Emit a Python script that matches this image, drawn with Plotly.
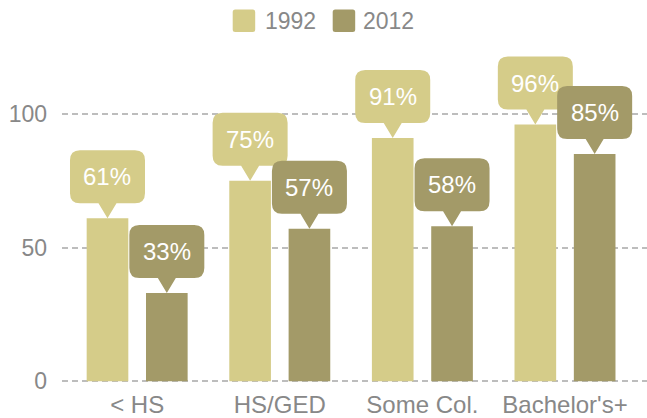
import plotly.graph_objects as go

# ---- data ----
categories = ["< HS", "HS/GED", "Some Col.", "Bachelor's+"]
series_names = ["1992", "2012"]
values_1992 = [61, 75, 91, 96]
values_2012 = [33, 57, 58, 85]
y_ticks = [0, 50, 100]

colors = ["#d5cc89", "#a39a68"]
series_values = [values_1992, values_2012]

BARGAP = 0.168
BARGROUPGAP = 0.298

fig = go.Figure()
for name, vals, col in zip(series_names, series_values, colors):
    fig.add_trace(go.Bar(
        x=categories, y=vals, name=name,
        marker=dict(color=col, line=dict(width=0)),
        showlegend=False, hoverinfo="x+y",
    ))

# callout boxes (pixel-sized shapes anchored at each bar top)
n_series = len(series_names)
slot = (1 - BARGAP) / n_series
W, B, T, R, TW = 37.5, 15, 68, 10, 9


def callout_path():
    return (f"M{-W},{B+R} L{-W},{T-R} Q{-W},{T} {-W+R},{T} L{W-R},{T} "
            f"Q{W},{T} {W},{T-R} L{W},{B+R} Q{W},{B} {W-R},{B} L{TW},{B} "
            f"L0,0 L{-TW},{B} L{-W+R},{B} Q{-W},{B} {-W},{B+R} Z")


shapes = []
annotations = []
for i, cat in enumerate(categories):
    for s in range(n_series):
        v = series_values[s][i]
        xc = i - (1 - BARGAP) / 2 + slot * (s + 0.5)
        shapes.append(dict(
            type="path", xref="x", yref="y",
            xsizemode="pixel", ysizemode="pixel",
            xanchor=xc, yanchor=v, path=callout_path(),
            fillcolor=colors[s], line=dict(width=0), layer="above",
        ))
        annotations.append(dict(
            x=xc, y=v, xref="x", yref="y", text=f"{v}%",
            showarrow=False, yshift=(B + T) / 2, xanchor="center", yanchor="middle",
            font=dict(color="white", size=24, family="Liberation Sans, Arial, sans-serif"),
        ))

# manual legend centred at top of figure
leg_items = [(232.7, 265.0), (332.7, 363.3)]
for (sx, tx), name, col in zip(leg_items, series_names, colors):
    x0 = (sx - 62) / 585
    shapes.append(dict(
        type="path", xref="paper", yref="paper",
        xsizemode="pixel", ysizemode="pixel", xanchor=x0, yanchor=1,
        path="M0,10 L0,28 Q0,30.5 2.5,30.5 L20,30.5 Q22.5,30.5 22.5,28 L22.5,10.5 Q22.5,8 20,8 L2.5,8 Q0,8 0,10.5 Z",
        fillcolor=col, line=dict(width=0),
    ))
    annotations.append(dict(
        x=(tx - 62) / 585, y=1, xref="paper", yref="paper", text=name,
        showarrow=False, xanchor="left", yanchor="middle", yshift=19.5, xshift=-2,
        font=dict(color="#888888", size=23, family="Liberation Sans, Arial, sans-serif"),
    ))

fig.update_layout(
    width=647, height=418,
    margin=dict(l=62, r=0, t=40, b=32),
    paper_bgcolor="white", plot_bgcolor="white",
    barmode="group", bargap=BARGAP, bargroupgap=BARGROUPGAP,
    font=dict(family="Liberation Sans, Arial, sans-serif", color="#888888"),
    shapes=shapes, annotations=annotations,
    showlegend=False,
    xaxis=dict(
        type="category", range=[-0.527, 3.575],
        showgrid=False, zeroline=False, showline=False,
        tickfont=dict(size=24, color="#888888"),
        ticklabelstandoff=4,
    ),
    yaxis=dict(
        range=[-1, 127.6], tickvals=y_ticks,
        showgrid=True, gridcolor="#bdbdbd", gridwidth=1.5, griddash="6px,4px",
        zeroline=False, showline=False,
        tickfont=dict(size=23, color="#888888"),
        ticklabelstandoff=14,
    ),
)

fig.write_html(
    "out.html",
    config={"displayModeBar": False},
    post_script="document.body.style.margin='0';document.body.style.overflow='hidden';",
)
